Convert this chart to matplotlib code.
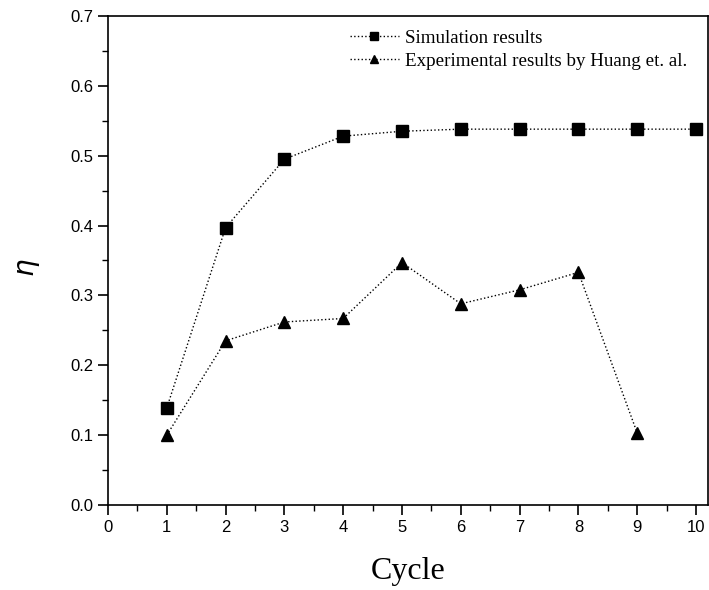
import matplotlib

matplotlib.use("Agg")
import matplotlib.pyplot as plt  # noqa: E402
from matplotlib.ticker import FormatStrFormatter, MultipleLocator  # noqa: E402

cycles = [1, 2, 3, 4, 5, 6, 7, 8, 9, 10]
simulation = [0.139, 0.397, 0.495, 0.528, 0.535, 0.538, 0.538, 0.538, 0.538, 0.538]
exp_cycles = [1, 2, 3, 4, 5, 6, 7, 8, 9]
experiment = [0.100, 0.235, 0.262, 0.267, 0.347, 0.288, 0.308, 0.333, 0.103]

SERIF = ["Liberation Serif", "DejaVu Serif"]
SANS = ["Liberation Sans", "DejaVu Sans"]

fig = plt.figure(figsize=(7.09, 5.9), dpi=100)
ax = fig.add_axes([0.1523, 0.1441, 0.846, 0.8288])

ax.plot(cycles, simulation, ls=":", lw=1.0, color="black", marker="s", ms=8,
        label="Simulation results")
ax.plot(exp_cycles, experiment, ls=":", lw=1.0, color="black", marker="^", ms=9,
        label="Experimental results by Huang et. al.")

ax.set_xlim(0, 10.2)
ax.set_ylim(0, 0.7)
ax.xaxis.set_major_locator(MultipleLocator(1))
ax.xaxis.set_minor_locator(MultipleLocator(0.5))
ax.yaxis.set_major_locator(MultipleLocator(0.1))
ax.yaxis.set_minor_locator(MultipleLocator(0.05))
ax.yaxis.set_major_formatter(FormatStrFormatter("%.1f"))
ax.tick_params(which="major", direction="out", length=7, width=1.2, labelsize=12)
ax.tick_params(which="minor", direction="out", length=4, width=1.0)
for lab in ax.get_xticklabels() + ax.get_yticklabels():
    lab.set_family(SANS)
for s in ax.spines.values():
    s.set_linewidth(1.2)

ax.set_xlabel("Cycle", family=SERIF, fontsize=23, labelpad=16)
ax.set_ylabel(r"$\eta$", fontsize=20)
ax.yaxis.set_label_coords(-0.11, 0.485)

ax.legend(loc="upper left", bbox_to_anchor=(0.403, 0.972), frameon=False,
          prop={"family": SERIF, "size": 13.7}, handlelength=2.6,
          handletextpad=0.3, labelspacing=0.3, borderpad=0, borderaxespad=0,
          markerscale=0.7)

fig.savefig("out.png", dpi=100)
